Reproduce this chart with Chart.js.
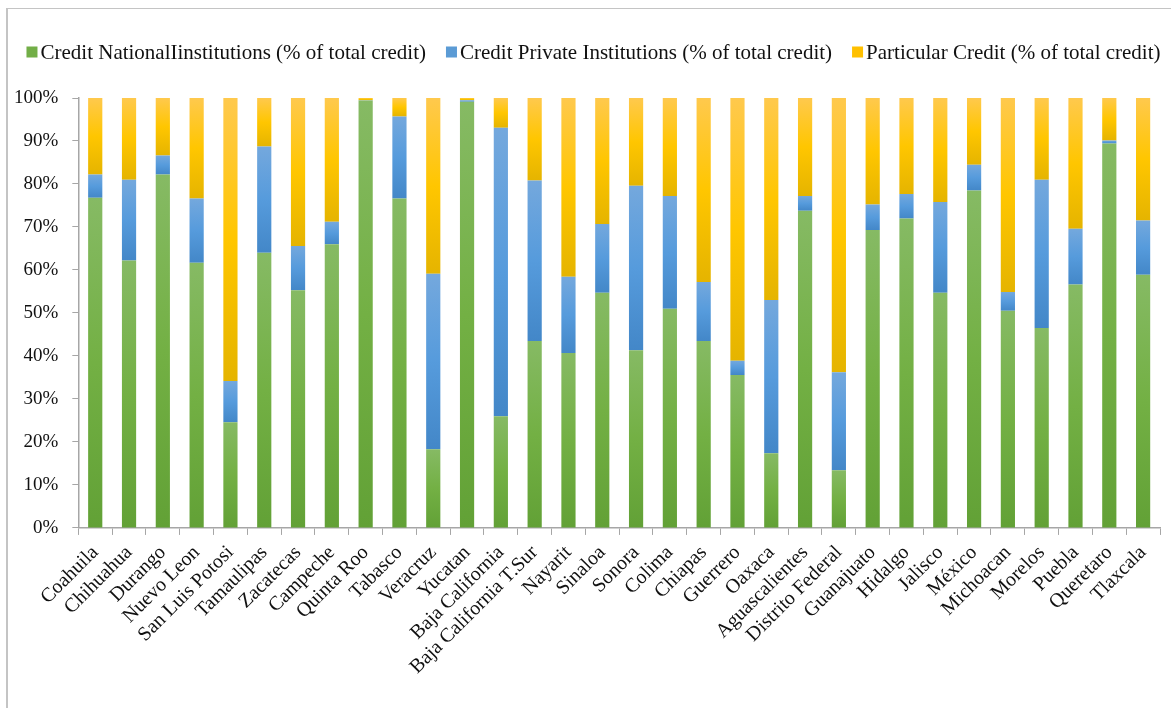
<!DOCTYPE html>
<html>
<head>
<meta charset="utf-8">
<title>Credit composition by state</title>
<script src="https://cdn.jsdelivr.net/npm/chart.js@4/dist/chart.umd.min.js"></script>
<style>
  html, body { margin: 0; padding: 0; background: #ffffff; }
  #wrap { position: relative; width: 1171px; height: 708px; overflow: hidden; }
  #frame { position: absolute; left: 6px; top: 8px; right: -4px; bottom: -4px;
           border-left: 2px solid #c4c4c4; border-top: 1px solid #c4c4c4; pointer-events: none; }
  canvas { position: absolute; left: 0; top: 0; }
</style>
</head>
<body>
<div id="wrap">
  <canvas id="chart" width="1171" height="708"></canvas>
  <div id="frame"></div>
</div>
<script>
// States, in display order
const states = [
  "Coahuila", "Chihuahua", "Durango", "Nuevo Leon", "San Luis Potosi", "Tamaulipas",
  "Zacatecas", "Campeche", "Quinta Roo", "Tabasco", "Veracruz", "Yucatan",
  "Baja California", "Baja California T.Sur", "Nayarit", "Sinaloa", "Sonora", "Colima",
  "Chiapas", "Guerrero", "Oaxaca", "Aguascalientes", "Distrito Federal", "Guanajuato",
  "Hidalgo", "Jalisco", "México", "Michoacan", "Morelos", "Puebla", "Queretaro", "Tlaxcala"
];

// Share of total credit (%) by source
const nationalCredit = [
  76.8, 62.2, 82.2, 61.7, 24.6, 64.0, 55.3, 66.0, 99.4, 76.6, 18.3, 99.1,
  26.0, 43.5, 40.7, 54.7, 41.3, 51.0, 43.5, 35.6, 17.4, 73.8, 13.4, 69.3,
  72.0, 54.7, 78.5, 50.5, 46.5, 56.6, 89.4, 58.9
];
const privateCredit = [
  5.4, 18.8, 4.4, 14.9, 9.6, 24.7, 10.3, 5.2, 0.1, 19.1, 40.8, 0.4,
  67.1, 37.3, 17.7, 16.0, 38.3, 26.2, 13.7, 3.3, 35.6, 3.4, 22.8, 5.9,
  5.7, 21.1, 6.0, 4.4, 34.5, 13.0, 0.7, 12.6
];
const particularCredit = [
  17.8, 19.0, 13.4, 23.4, 65.8, 11.3, 34.4, 28.8, 0.5, 4.3, 40.9, 0.5,
  6.9, 19.2, 41.6, 29.3, 20.4, 22.8, 42.8, 61.1, 47.0, 22.8, 63.8, 24.8,
  22.3, 24.2, 15.5, 45.1, 19.0, 30.4, 9.9, 28.5
];

// Axis ticks (percent)
const yTicks = [0, 10, 20, 30, 40, 50, 60, 70, 80, 90, 100];

const serif = "'Liberation Serif', 'Times New Roman', 'DejaVu Serif', serif";
const axisGrey = '#a6a6a6';
const legendSwatches = ['#72ae47', '#5b9bd5', '#ffc000'];

// Vertical gradient per bar segment: light top, saturated middle, darker base
function segmentFill(top, mid, bottom) {
  return (ctx) => {
    const chart = ctx.chart;
    if (ctx.type !== 'data' || !chart.chartArea || !chart.scales.y) return mid;
    const yScale = chart.scales.y;
    const i = ctx.dataIndex;
    let start = 0;
    for (let d = 0; d < ctx.datasetIndex; d++) start += chart.data.datasets[d].data[i];
    const end = start + chart.data.datasets[ctx.datasetIndex].data[i];
    const yTop = yScale.getPixelForValue(end);
    const yBottom = yScale.getPixelForValue(start);
    if (!(yBottom - yTop > 0.5)) return mid;
    const g = chart.ctx.createLinearGradient(0, yTop, 0, yBottom);
    g.addColorStop(0, top);
    g.addColorStop(0.5, mid);
    g.addColorStop(1, bottom);
    return g;
  };
}

// One-row legend with tight swatch-to-text spacing
const rowLegend = {
  id: 'rowLegend',
  afterDraw(chart, args, opts) {
    const ctx = chart.ctx;
    const sets = chart.data.datasets;
    ctx.save();
    ctx.font = opts.fontSize + 'px ' + serif;
    ctx.textBaseline = 'middle';
    ctx.textAlign = 'left';
    const widths = sets.map(ds => ctx.measureText(ds.label).width);
    const itemW = widths.map(w => opts.box + opts.textGap + w);
    const total = itemW.reduce((a, b) => a + b, 0) + opts.itemGap * (sets.length - 1);
    let x = (chart.width - total) / 2 + opts.shift;
    sets.forEach((ds, i) => {
      ctx.fillStyle = legendSwatches[i];
      ctx.fillRect(x, opts.y - opts.box / 2, opts.box, opts.box);
      ctx.fillStyle = '#111';
      ctx.fillText(ds.label, x + opts.box + opts.textGap, opts.y + 1);
      x += itemW[i] + opts.itemGap;
    });
    ctx.restore();
  }
};

new Chart(document.getElementById('chart'), {
  type: 'bar',
  data: {
    labels: states,
    datasets: [
      {
        label: 'Credit NationalIinstitutions (% of total credit)',
        data: nationalCredit,
        backgroundColor: segmentFill('#86ba64', '#73b044', '#62a136')
      },
      {
        label: 'Credit Private Institutions (% of total credit)',
        data: privateCredit,
        backgroundColor: segmentFill('#74a8dd', '#569bdc', '#4387c8')
      },
      {
        label: 'Particular Credit (% of total credit)',
        data: particularCredit,
        backgroundColor: segmentFill('#ffc94d', '#ffc600', '#e5b400')
      }
    ]
  },
  plugins: [rowLegend],
  options: {
    responsive: false,
    animation: false,
    devicePixelRatio: 1,
    layout: { padding: { left: 0, right: 11, top: 98, bottom: 23 } },
    datasets: {
      bar: { barPercentage: 0.42, categoryPercentage: 1.0, borderWidth: 0 }
    },
    plugins: {
      tooltip: { enabled: false },
      legend: { display: false },
      rowLegend: { fontSize: 21, box: 11, textGap: 3, itemGap: 20, y: 52, shift: 8 }
    },
    scales: {
      x: {
        stacked: true,
        // rotated category names may run under the value axis labels
        afterFit: (scale) => { scale.paddingLeft = 0; },
        grid: {
          display: true,
          offset: true,
          drawOnChartArea: false,
          drawTicks: true,
          tickLength: 7,
          color: axisGrey
        },
        border: { display: true, color: axisGrey, width: 1.5 },
        ticks: {
          color: '#111',
          font: { family: serif, size: 20 },
          minRotation: 45,
          maxRotation: 45,
          autoSkip: false,
          padding: 6
        }
      },
      y: {
        stacked: true,
        min: 0,
        max: 100,
        afterBuildTicks: (axis) => { axis.ticks = yTicks.map(v => ({ value: v })); },
        grid: {
          display: true,
          drawOnChartArea: false,
          drawTicks: true,
          tickLength: 6,
          color: axisGrey
        },
        border: { display: true, color: axisGrey, width: 1.5 },
        ticks: {
          color: '#111',
          font: { family: serif, size: 19 },
          padding: 14,
          callback: (v) => v + '%'
        }
      }
    }
  }
});
</script>
</body>
</html>
